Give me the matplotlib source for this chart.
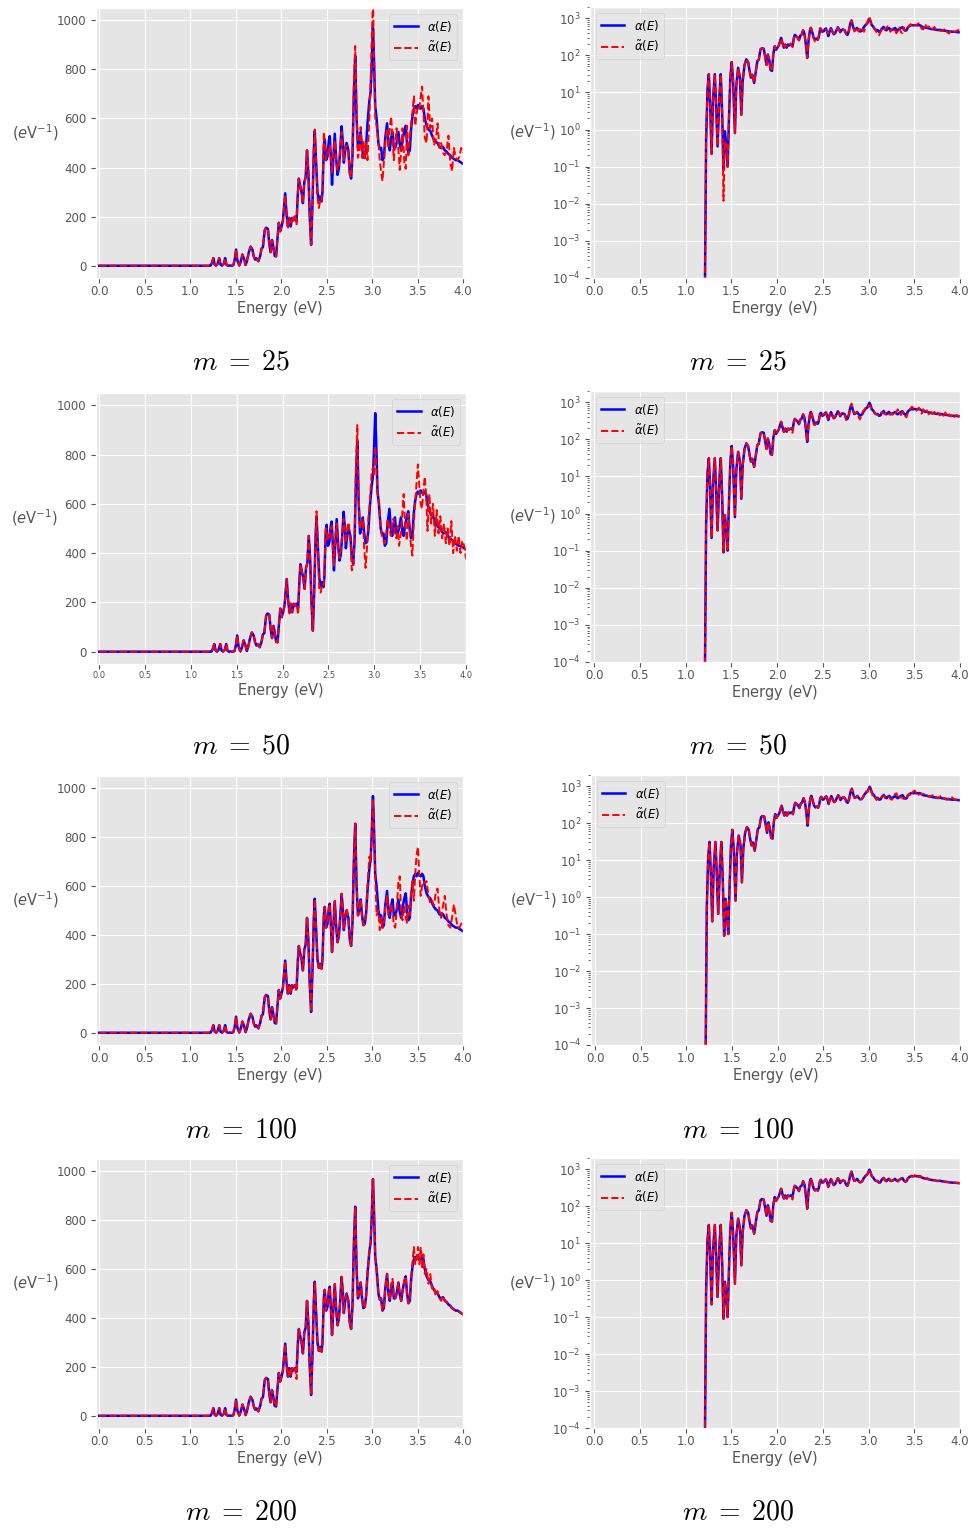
import matplotlib
matplotlib.use("Agg")
import matplotlib.pyplot as plt

plt.style.use("ggplot")

# photon energy grid (eV)
energy = [
    0.0, 1.2,
    1.21, 1.225, 1.24, 1.255, 1.27, 1.285, 1.30, 1.32, 1.335, 1.35,
    1.37, 1.385, 1.40, 1.415, 1.43, 1.445, 1.46, 1.475, 1.49, 1.505,
    1.52, 1.54, 1.555, 1.575, 1.595, 1.61, 1.625, 1.645, 1.665, 1.685,
    1.70, 1.715, 1.73, 1.75, 1.77, 1.785, 1.80, 1.82, 1.835, 1.855,
    1.87, 1.885, 1.90, 1.915, 1.93, 1.945, 1.96, 1.975, 1.99, 2.005,
    2.02, 2.035, 2.045, 2.06, 2.075, 2.09, 2.105, 2.12, 2.135, 2.15,
    2.17, 2.185, 2.195, 2.21, 2.225, 2.24, 2.255, 2.27, 2.285, 2.30,
    2.315, 2.33, 2.345, 2.36, 2.37, 2.385, 2.40,
    2.415, 2.43, 2.445, 2.455, 2.47, 2.48, 2.495, 2.51, 2.525, 2.535,
    2.55, 2.56, 2.575, 2.59, 2.605, 2.62, 2.635, 2.65, 2.665, 2.68,
    2.69, 2.705, 2.72, 2.74, 2.755, 2.77, 2.785, 2.80, 2.815, 2.83,
    2.845, 2.86, 2.875, 2.89, 2.905, 2.92, 2.935, 2.95, 2.97, 2.985,
    2.995, 3.01, 3.02, 3.035, 3.05, 3.07, 3.085, 3.10, 3.115, 3.13,
    3.145, 3.165, 3.18, 3.195, 3.21, 3.225, 3.24, 3.255, 3.27, 3.29,
    3.305, 3.32, 3.335, 3.355, 3.37, 3.385, 3.40, 3.415, 3.43, 3.445,
    3.46, 3.475, 3.49, 3.505, 3.52, 3.535, 3.55, 3.565, 3.58, 3.60,
    3.62, 3.64, 3.66, 3.68, 3.70, 3.72, 3.74, 3.76, 3.78, 3.80,
    3.82, 3.84, 3.86, 3.88, 3.90, 3.92, 3.94, 3.96, 3.98, 4.00,
]

# exact absorption spectrum alpha(E)
alpha = [
    0, 0,
    1e-5, 0.5, 12, 31, 4, 0.22, 6, 31, 4, 0.35,
    8, 31, 3, 0.09, 0.9, 0.4, 0.1, 2, 25, 66,
    20, 0.8, 15, 46, 25, 2.5, 20, 55, 78, 65,
    38, 25, 30, 18, 40, 70, 75, 145, 155, 150,
    90, 55, 105, 75, 40, 38, 110, 175, 140, 160,
    185, 250, 295, 210, 160, 195, 160, 195, 185, 195,
    180, 300, 355, 325, 300, 255, 340, 360, 470, 380,
    200, 85, 250, 470, 548, 420, 300,
    265, 282, 262, 300, 480, 515, 430, 445, 510, 528,
    420, 330, 440, 538, 440, 370, 395, 470, 568, 500,
    420, 470, 500, 470, 380, 355, 450, 700, 855, 600,
    480, 500, 545, 480, 440, 445, 490, 580, 670, 710,
    800, 968, 860, 650, 600, 500, 475, 480, 430, 440,
    520, 580, 500, 470, 520, 545, 480, 480, 500, 545,
    495, 470, 510, 550, 570, 500, 460, 470, 560, 610,
    640, 650, 640, 655, 645, 640, 650, 640, 600, 570,
    555, 550, 530, 515, 505, 500, 485, 480, 485, 470,
    465, 455, 450, 440, 435, 430, 430, 425, 420, 415,
]

# approximations alpha~(E) for m = 25, 50, 100, 200
alpha_m25 = [
    0, 0,
    1e-5, 0.5, 12, 31, 4, 0.22, 6, 31, 4, 0.35,
    8, 31, 3, 0.012, 0.5, 0.4, 0.1, 2, 25, 66,
    20, 0.8, 15, 46, 25, 2.5, 20, 55, 78, 65,
    38, 25, 30, 18, 40, 70, 75, 145, 155, 150,
    90, 55, 105, 75, 40, 38, 110, 175, 140, 160,
    185, 250, 285, 210, 150, 195, 175, 195, 185, 210,
    165, 300, 355, 325, 300, 255, 340, 360, 470, 380,
    200, 85, 250, 480, 555, 420, 280,
    235, 265, 260, 320, 545, 500, 430, 450, 480, 490,
    430, 380, 470, 510, 430, 390, 400, 480, 545, 470,
    430, 480, 490, 460, 370, 360, 470, 750, 895, 620,
    440, 470, 565, 440, 510, 430, 500, 430, 600, 760,
    900, 1090, 900, 600, 570, 500, 430, 380, 345, 420,
    500, 560, 480, 560, 608, 520, 430, 500, 560, 470,
    390, 470, 560, 420, 395, 570, 450, 520, 580, 630,
    690, 570, 620, 650, 640, 690, 730, 620, 520, 500,
    690, 560, 600, 490, 510, 580, 480, 500, 460, 450,
    470, 530, 420, 385, 480, 440, 430, 445, 480, 460,
]

alpha_m50 = [
    0, 0,
    1e-5, 0.5, 12, 31, 4, 0.22, 6, 31, 4, 0.35,
    8, 31, 3, 0.09, 0.9, 0.4, 0.1, 2, 25, 66,
    20, 0.8, 15, 46, 25, 2.5, 20, 55, 78, 65,
    38, 25, 30, 18, 40, 70, 75, 145, 155, 150,
    90, 55, 105, 75, 40, 38, 110, 175, 140, 160,
    185, 250, 295, 210, 155, 195, 160, 195, 185, 195,
    150, 300, 355, 325, 300, 255, 340, 360, 470, 380,
    200, 85, 250, 470, 570, 420, 250,
    240, 270, 265, 310, 500, 480, 450, 470, 500, 510,
    400, 350, 470, 520, 420, 380, 410, 480, 540, 480,
    440, 500, 525, 450, 330, 340, 470, 760, 920, 620,
    500, 510, 540, 420, 340, 420, 540, 600, 720, 750,
    720, 835, 760, 640, 620, 500, 470, 450, 440, 480,
    540, 500, 470, 520, 540, 470, 460, 510, 430, 480,
    560, 640, 520, 450, 560, 500, 430, 390, 520, 600,
    680, 760, 680, 600, 580, 650, 710, 640, 490, 640,
    520, 600, 470, 575, 480, 550, 460, 520, 440, 500,
    430, 530, 400, 470, 410, 470, 400, 450, 430, 375,
]

alpha_m100 = [
    0, 0,
    1e-5, 0.5, 12, 31, 4, 0.22, 6, 31, 4, 0.35,
    8, 31, 3, 0.09, 0.9, 0.4, 0.1, 2, 25, 66,
    20, 0.8, 15, 46, 25, 2.5, 20, 55, 78, 65,
    38, 25, 30, 18, 40, 70, 75, 145, 155, 150,
    90, 55, 105, 75, 40, 38, 110, 175, 140, 160,
    185, 250, 295, 210, 160, 195, 160, 195, 185, 195,
    170, 300, 355, 325, 300, 255, 340, 360, 470, 380,
    200, 85, 250, 470, 548, 420, 300,
    265, 282, 262, 300, 480, 515, 430, 445, 510, 528,
    420, 330, 440, 538, 440, 370, 395, 470, 568, 500,
    420, 470, 510, 470, 380, 355, 450, 700, 855, 600,
    480, 500, 545, 480, 440, 445, 500, 600, 720, 700,
    790, 955, 850, 640, 480, 500, 420, 470, 430, 450,
    510, 560, 480, 490, 530, 500, 440, 430, 500, 620,
    640, 480, 460, 520, 470, 450, 520, 480, 580, 620,
    540, 650, 730, 760, 640, 560, 600, 620, 610, 620,
    560, 530, 540, 520, 570, 590, 500, 470, 520, 560,
    480, 440, 430, 470, 525, 480, 430, 430, 445, 455,
]

alpha_m200 = [
    0, 0,
    1e-5, 0.5, 12, 31, 4, 0.22, 6, 31, 4, 0.35,
    8, 31, 3, 0.09, 0.9, 0.4, 0.1, 2, 25, 66,
    20, 0.8, 15, 46, 25, 2.5, 20, 55, 78, 65,
    38, 25, 30, 18, 40, 70, 75, 145, 155, 150,
    90, 55, 105, 75, 40, 38, 110, 175, 140, 160,
    185, 250, 295, 210, 160, 195, 160, 195, 185, 195,
    150, 300, 355, 325, 300, 255, 340, 360, 470, 380,
    200, 85, 250, 470, 548, 420, 300,
    265, 282, 262, 300, 480, 515, 430, 445, 510, 528,
    420, 330, 440, 538, 440, 370, 395, 470, 568, 500,
    420, 470, 500, 470, 380, 355, 450, 700, 855, 600,
    480, 500, 545, 480, 440, 445, 490, 580, 670, 710,
    800, 968, 870, 650, 600, 500, 475, 480, 430, 440,
    520, 580, 500, 470, 540, 560, 480, 480, 500, 545,
    495, 470, 510, 550, 570, 500, 460, 470, 560, 630,
    690, 620, 640, 690, 620, 690, 600, 660, 580, 600,
    540, 580, 520, 530, 490, 510, 480, 470, 490, 470,
    465, 455, 450, 440, 435, 430, 430, 425, 420, 415,
]

m_values = ["25", "50", "100", "200"]
approximations = [alpha_m25, alpha_m50, alpha_m100, alpha_m200]

W, H = 974, 1529
fig = plt.figure(figsize=(W / 100, H / 100), dpi=100)


def box(l, t, r, b):
    return [l / W, 1 - b / H, (r - l) / W, (b - t) / H]


# pixel boxes of the panels: (linear, log, caption row)
layout = [
    ((96, 8, 463, 278), (590, 7, 960, 278), 362),
    ((96, 393, 466, 664), (590, 391, 960, 662), 746),
    ((96, 776, 463, 1045), (591, 775, 960, 1045), 1129),
    ((96, 1159, 463, 1428), (590, 1158, 960, 1428), 1512),
]


def draw(ax, approx, log):
    ax.plot(energy, alpha, color="blue", lw=1.8, label=r"$\alpha(E)$")
    ax.plot(energy, approx, color="red", ls="--", lw=1.4, label=r"$\tilde{\alpha}(E)$")
    ax.set_xlabel("Energy ($e$V)", fontsize=10.5, labelpad=1)
    ax.set_ylabel("($e$V$^{-1}$)", fontsize=10.5, rotation=0, ha="center", va="center")
    ax.tick_params(labelsize=8.5)
    ax.tick_params(axis="x", pad=1.5)
    ax.set_xticks([0.0, 0.5, 1.0, 1.5, 2.0, 2.5, 3.0, 3.5, 4.0])
    if log:
        ax.set_yscale("log")
        ax.set_xlim(-0.044, 4.0)
        ax.set_ylim(1e-4, 2e3)
        ax.yaxis.set_label_coords(-0.157, 0.54)
        ax.legend(loc="upper left", fontsize=8.5)
    else:
        ax.set_xlim(-0.035, 4.0)
        ax.set_ylim(-50, 1050)
        ax.set_yticks([0, 200, 400, 600, 800, 1000])
        ax.yaxis.set_label_coords(-0.166, 0.54)
        ax.legend(loc="upper right", fontsize=8.5)


for m, approx, (lin_box, log_box, cap_y) in zip(m_values, approximations, layout):
    ax_lin = fig.add_axes(box(*lin_box))
    draw(ax_lin, approx, log=False)
    ax_log = fig.add_axes(box(*log_box))
    draw(ax_log, approx, log=True)
    if m == "50":
        ax_lin.tick_params(axis="x", labelsize=6)
    for cx in (241, 738):
        fig.text(cx / W, 1 - cap_y / H, r"$m\;=\;%s$" % m, fontsize=20,
                 ha="center", va="center", math_fontfamily="cm", color="black")

fig.savefig("out.png", dpi=100, facecolor="white")
